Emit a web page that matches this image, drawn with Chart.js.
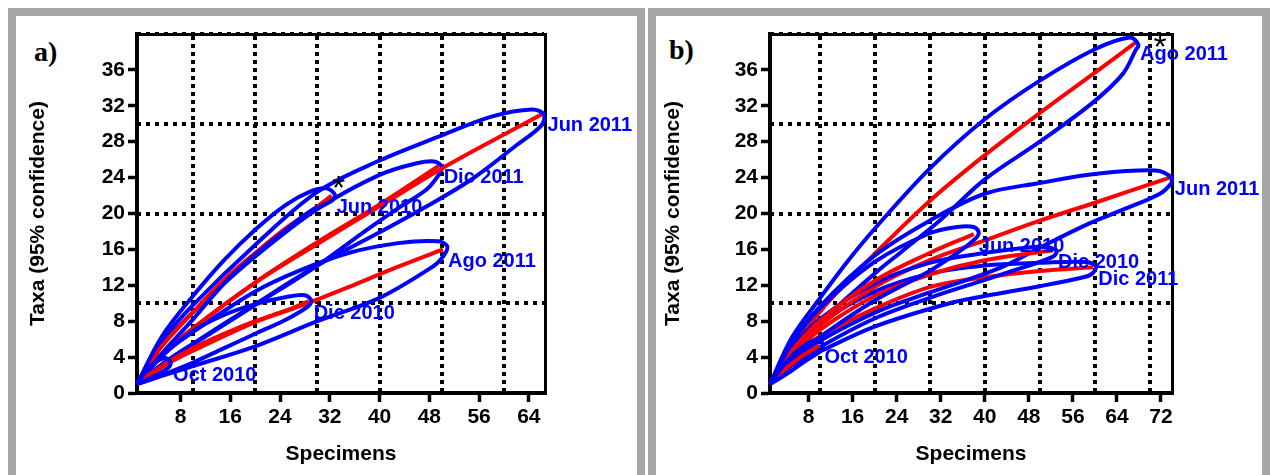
<!DOCTYPE html>
<html>
<head>
<meta charset="utf-8">
<script src="https://cdn.jsdelivr.net/npm/chart.js@4.4.1/dist/chart.umd.min.js"></script>
<style>
  body { margin: 0; background: #fff; width: 1270px; height: 475px; overflow: hidden; position: relative; }
  .frame { position: absolute; top: 8px; height: 490px; border: 8px solid #a6a6a6; border-bottom: none; box-sizing: border-box; }
  #frameA { left: 8px; width: 637px; }
  #frameB { left: 648px; width: 622px; }
  .tag { position: absolute; font: bold 28px 'Liberation Serif', serif; color: #000; }
  canvas { position: absolute; top: 0; }
</style>
</head>
<body>
<div class="frame" id="frameA"></div>
<div class="frame" id="frameB"></div>
<div class="tag" style="left:34px; top:36px;">a)</div>
<div class="tag" style="left:669px; top:34px;">b)</div>
<canvas id="chartA" width="645" height="475" style="left:0"></canvas>
<canvas id="chartB" width="625" height="475" style="left:645px"></canvas>
<script>
// [specimens, taxa]; envelopes: upper curve out, lower curve back
// --- panel a ---
const a_oct10_mean = [[1,1],[3,2.1],[6,3.3]];
const a_oct10_up   = [[1,1],[3,2.9],[5.5,3.9],[6.4,3.4]];
const a_oct10_lo   = [[6,2.8],[3,1.6],[1,1]];

const a_jun10_mean = [[1,1],[5,5.2],[10,9],[15,12.6],[20,15.6],[25,18.4],[30,20.8],[32.3,22]];
const a_jun10_up   = [[1,1],[5,6.3],[10,10.8],[15,14.8],[20,18.2],[25,21],[29,22.5],[31.5,22.8],[32.8,22.1]];
const a_jun10_lo   = [[32.3,21.4],[29,20.3],[25,18.2],[20,15.4],[15,12.2],[10,8.2],[5,4.4],[1,1]];

const a_dic10_mean = [[1,1],[5,3],[10,5],[15,6.6],[20,8],[25,9.2],[28.6,10.2]];
const a_dic10_up   = [[1,1],[5,4.1],[10,6.9],[15,8.7],[20,9.9],[25,10.7],[28,10.9],[29,10.3]];
const a_dic10_lo   = [[28.4,9.6],[25,8.2],[20,6.6],[15,5],[10,3.4],[5,2],[1,1]];

const a_jun11_mean = [[1,1],[5,4.2],[10,7.2],[20,12.3],[30,16.6],[40,20.8],[50,25],[60,28.8],[66.2,31.1]];
const a_jun11_up   = [[1,1],[5,5.8],[10,9.8],[20,16.5],[30,22.4],[40,25.9],[50,28.7],[58,30.8],[64.5,31.6],[66.5,31]];
const a_jun11_lo   = [[66,29.8],[62,27.6],[55,23.9],[47.6,20.8],[40,17.9],[30,14.2],[20,9.9],[10,5.5],[5,3.2],[1,1]];

const a_ago11_mean = [[1,1],[5,2.9],[10,4.7],[20,7.9],[27.3,9.7],[35,11.8],[42,13.8],[50.2,16]];
const a_ago11_up   = [[1,1],[5,4.2],[10,6.8],[20,11.3],[27,13.6],[35,15.6],[43,16.7],[49.5,16.9],[50.9,16.3]];
const a_ago11_lo   = [[50.2,15.2],[48.6,14.1],[40,10.6],[30,8],[20,5.2],[10,3],[5,1.9],[1,1]];

const a_dic11_mean = [[1,1],[5,4.2],[10,7.2],[20,12.3],[30,16.8],[40,21],[49.5,25.3]];
const a_dic11_up   = [[1,1],[5,5.3],[10,9],[20,15.2],[30,20.5],[40,24.3],[46,25.6],[48.8,25.8],[50,25.2]];
const a_dic11_lo   = [[49.6,24.4],[47.6,22.7],[43,20.6],[38,18.2],[30,14.2],[20,9.8],[10,5.4],[5,3.1],[1,1]];

// --- panel b ---
const b_oct10_mean = [[1,1],[4,2.8],[7,4.2],[10,5.3]];
const b_oct10_up   = [[1,1],[4,3.5],[7,5.2],[9.6,6],[10.6,5.4]];
const b_oct10_lo   = [[10.2,4.7],[7,3.4],[4,2.1],[1,1]];

const b_jun10_mean = [[1,1],[5,4.7],[10,8],[20,12.5],[30,15.6],[38,17.7]];
const b_jun10_up   = [[1,1],[5,5.6],[10,9.4],[20,14.6],[30,17.8],[35,18.5],[38,18.5],[38.9,17.9]];
const b_jun10_lo   = [[38.3,17.2],[35,15.6],[30,13.6],[20,10.3],[10,6.2],[5,3.7],[1,1]];

const b_dic10_mean = [[1,1],[5,4.2],[10,7],[20,10.8],[30,13.2],[40,14.8],[52.4,15.9]];
const b_dic10_up   = [[1,1],[5,5],[10,8.2],[20,12.2],[30,14.5],[40,15.6],[50,16.3],[53,15.9]];
const b_dic10_lo   = [[52.4,15.2],[45,13.6],[40,12.6],[30,10.6],[20,8.3],[10,5.1],[5,3.1],[1,1]];

const b_jun11_mean = [[1,1],[5,4.5],[10,7.5],[20,11.8],[30,14.8],[40,17],[50,19.2],[60,21.2],[73.6,24]];
const b_jun11_up   = [[1,1],[5,5.6],[10,9.6],[20,15.3],[30,19.2],[40,22.2],[50,23.4],[60,24.4],[71,24.8],[74,24]];
const b_jun11_lo   = [[73.9,23.4],[71.8,22.2],[65,20.4],[59,18.9],[50,16.2],[43,14],[30,11.2],[21,9.2],[10,5.8],[5,3.6],[1,1]];

const b_ago11_mean = [[1,1],[5,5],[10,9],[15,12.4],[20,15.5],[30,21.4],[40,26.5],[50,31.2],[60,35.7],[67.3,39]];
const b_ago11_up   = [[1,1],[5,6.2],[10,10.5],[15,14.6],[20,18.3],[30,25],[40,30.5],[50,34.8],[60,38.3],[66.4,39.6],[67.9,38.8]];
const b_ago11_lo   = [[67.4,38.2],[65,35.5],[59.5,32.3],[50,28],[40,23.8],[32,19.3],[25,15.8],[20,13.3],[10,7.8],[5,4.6],[1,1]];

const b_dic11_mean = [[1,1],[5,4],[10,6.3],[20,9.4],[30,11.8],[40,12.9],[50,13.6],[59.7,14]];
const b_dic11_up   = [[1,1],[5,5],[10,7.8],[20,11.3],[30,13.3],[40,14.2],[50,14.5],[58.5,14.6],[60.2,14.1]];
const b_dic11_lo   = [[59.5,13.3],[57.9,12.9],[50,11.9],[40,10.8],[33.6,10],[20,7.4],[10,4.6],[5,3.1],[1,1]];

const dates = ['Oct 2010', 'Jun 2010', 'Dic 2010', 'Jun 2011', 'Ago 2011', 'Dic 2011'];
const xTitle = 'Specimens';
const yTitle = 'Taxa (95% confidence)';

const seriesA = [
  [a_oct10_mean, a_oct10_up, a_oct10_lo],
  [a_jun10_mean, a_jun10_up, a_jun10_lo],
  [a_dic10_mean, a_dic10_up, a_dic10_lo],
  [a_jun11_mean, a_jun11_up, a_jun11_lo],
  [a_ago11_mean, a_ago11_up, a_ago11_lo],
  [a_dic11_mean, a_dic11_up, a_dic11_lo],
];
const seriesB = [
  [b_oct10_mean, b_oct10_up, b_oct10_lo],
  [b_jun10_mean, b_jun10_up, b_jun10_lo],
  [b_dic10_mean, b_dic10_up, b_dic10_lo],
  [b_jun11_mean, b_jun11_up, b_jun11_lo],
  [b_ago11_mean, b_ago11_up, b_ago11_lo],
  [b_dic11_mean, b_dic11_up, b_dic11_lo],
];

const FONT = 'Liberation Sans';
const pts = arr => arr.map(p => ({x: p[0], y: p[1]}));

function buildDatasets(series) {
  const out = [];
  series.forEach(s => {
    out.push({ data: pts(s[1].concat(s[2])), borderColor: '#0000ff' });
    out.push({ data: pts(s[0]), borderColor: '#ff0000' });
  });
  return out.map(d => Object.assign(d, {
    showLine: true, pointRadius: 0, borderWidth: 4, tension: 0.35,
    clip: false, xAxisID: 'x', yAxisID: 'y'
  }));
}

// blue date labels next to each curve end, plus the asterisk
function labelPlugin(series, starIdx, starDx, starDy) {
  return {
    id: 'endLabels',
    afterDatasetsDraw(chart) {
      const {ctx, scales: {x, y}} = chart;
      ctx.save();
      ctx.font = 'bold 20px "' + FONT + '"';
      ctx.fillStyle = '#0000ff';
      ctx.textBaseline = 'middle';
      series.forEach((s, i) => {
        const p = s[0][s[0].length - 1];
        ctx.fillText(dates[i], x.getPixelForValue(p[0]) + 5, y.getPixelForValue(p[1]) + 12);
      });
      const e = series[starIdx][0][series[starIdx][0].length - 1];
      ctx.fillStyle = '#000';
      ctx.font = '34px "' + FONT + '"';
      ctx.textAlign = 'center';
      ctx.fillText('*', x.getPixelForValue(e[0]) + starDx, y.getPixelForValue(e[1]) + starDy);
      ctx.restore();
    }
  };
}

const tickFont = {family: FONT, size: 21, weight: 'bold'};

function makeChart(el, series, xMax, yWidth, titlePad, padRight, star) {
  return new Chart(el, {
    type: 'scatter',
    data: { datasets: buildDatasets(series) },
    plugins: [labelPlugin(series, star[0], star[1], star[2])],
    options: {
      responsive: false,
      animation: false,
      layout: { padding: { left: 0, top: 34, right: padRight, bottom: 0 } },
      plugins: { legend: { display: false }, tooltip: { enabled: false } },
      scales: {
        x: {
          type: 'linear', position: 'bottom', min: 1, max: xMax,
          ticks: { stepSize: 8, includeBounds: false, autoSkip: false, maxRotation: 0,
                   color: '#000', font: tickFont, padding: 3 },
          grid: { drawOnChartArea: false, color: '#000', tickLength: 9, tickWidth: 3.5 },
          border: { color: '#000', width: 4 },
          title: { display: true, text: xTitle, color: '#000', font: tickFont, padding: { top: 0, bottom: 8 } },
          afterFit: s => { s.height = 82; s.paddingLeft = 0; s.paddingRight = 0; }
        },
        y: {
          type: 'linear', position: 'left', min: 0, max: 40,
          ticks: { stepSize: 4, autoSkip: false, color: '#000', font: tickFont, padding: 3,
                   callback: v => (v === 40 ? null : v) },
          grid: { drawOnChartArea: false, color: '#000', tickLength: 9, tickWidth: 3.5 },
          border: { color: '#000', width: 4 },
          title: { display: true, text: yTitle, color: '#000', font: tickFont, padding: { top: titlePad, bottom: 0 } },
          afterFit: s => { s.width = yWidth; s.paddingTop = 0; s.paddingBottom = 0; }
        },
        xg: {
          type: 'linear', position: 'top', min: 1, max: xMax,
          ticks: { display: false, stepSize: 10, includeBounds: false },
          grid: { color: '#000', lineWidth: 4, drawTicks: false },
          border: { display: true, color: '#000', width: 3, dash: [4, 4] },
          afterFit: s => { s.height = 0; }
        },
        yg: {
          type: 'linear', position: 'right', min: 0, max: 40,
          ticks: { display: false, stepSize: 10 },
          grid: { color: c => (c.tick && c.tick.value === 0 ? 'rgba(0,0,0,0)' : '#000'),
                  lineWidth: 4, drawTicks: false },
          border: { display: true, color: '#000', width: 3, dash: [4, 5] },
          afterFit: s => { s.width = 0; }
        }
      }
    }
  });
}

makeChart(document.getElementById('chartA'), seriesA, 66.6, 137, 26, 100, [1, 7, -6]);
makeChart(document.getElementById('chartB'), seriesB, 74, 125, 16, 98, [4, 25, 6]);
</script>
</body>
</html>
